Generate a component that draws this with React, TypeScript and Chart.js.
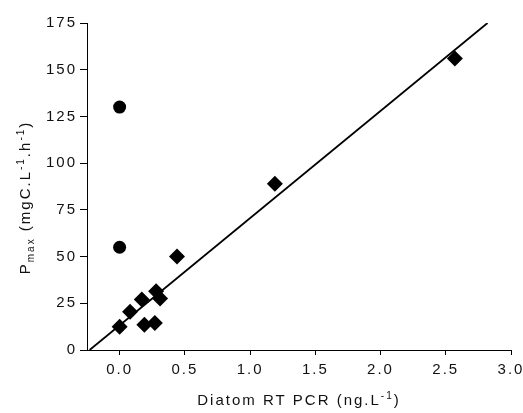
import React, { useEffect, useRef } from "react";
import { Chart, registerables } from "chart.js";

Chart.register(...registerables);

// Data
const circleX = [0.0, 0.0];
const circleY = [130, 55];
const diamondX = [0.0, 0.08, 0.17, 0.19, 0.27, 0.28, 0.31, 0.44, 1.19, 2.57];
const diamondY = [12.5, 20.5, 27, 13.5, 14.5, 31.5, 27.5, 50, 89, 156];
const fitX = [-0.23, 2.82];
const fitY = [0, 175];
const xTicks = [0, 0.5, 1.0, 1.5, 2.0, 2.5, 3.0];
const yTicks = [0, 25, 50, 75, 100, 125, 150, 175];

const xTitle = [
  { t: "Diatom RT PCR (ng.L", s: 0 },
  { t: "-1", s: 1 },
  { t: ")", s: 0 },
];
const yTitle = [
  { t: "P", s: 0 },
  { t: "max", s: -1 },
  { t: " (mgC.L", s: 0 },
  { t: "-1", s: 1 },
  { t: ".h", s: 0 },
  { t: "-1", s: 1 },
  { t: ")", s: 0 },
];

const FONT = "'Liberation Sans', Arial, sans-serif";
const TEXT = "#111";

function drawRich(ctx: CanvasRenderingContext2D, parts: { t: string; s: number }[], cx: number, baseY: number) {
  const big = `15px ${FONT}`;
  const small = `10px ${FONT}`;
  let total = 0;
  const widths = parts.map((p) => {
    ctx.font = p.s === 0 ? big : small;
    const w = ctx.measureText(p.t).width;
    total += w;
    return w;
  });
  let x = cx - total / 2;
  ctx.textAlign = "left";
  ctx.textBaseline = "alphabetic";
  parts.forEach((p, i) => {
    ctx.font = p.s === 0 ? big : small;
    const dy = p.s === 1 ? -6 : p.s === -1 ? 4 : 0;
    ctx.fillText(p.t, x, baseY + dy);
    x += widths[i];
  });
}

const titlePlugin = {
  id: "richTitles",
  beforeLayout(chart: any) {
    (chart.ctx as any).letterSpacing = "2px";
  },
  beforeDraw(chart: any) {
    (chart.ctx as any).letterSpacing = "2px";
  },
  afterDraw(chart: any) {
    const ctx = chart.ctx as CanvasRenderingContext2D;
    const a = chart.chartArea;
    ctx.save();
    (ctx as any).letterSpacing = "2px";
    ctx.fillStyle = TEXT;
    drawRich(ctx, xTitle, (a.left + a.right) / 2, a.bottom + 55);
    ctx.translate(30, (a.top + a.bottom) / 2 + 11);
    ctx.rotate(-Math.PI / 2);
    drawRich(ctx, yTitle, 0, 0);
    ctx.restore();
  },
};

export default function App() {
  const ref = useRef<HTMLCanvasElement | null>(null);
  useEffect(() => {
    if (!ref.current) return;
    const chart = new Chart(ref.current, {
      type: "scatter",
      data: {
        datasets: [
          {
            label: "fit",
            data: fitX.map((x, i) => ({ x, y: fitY[i] })),
            showLine: true,
            borderColor: "#000",
            borderWidth: 1.8,
            pointRadius: 0,
            order: 2,
          },
          {
            label: "circles",
            data: circleX.map((x, i) => ({ x, y: circleY[i] })),
            pointStyle: "circle",
            pointRadius: 6.5,
            backgroundColor: "#000",
            borderColor: "#000",
            borderWidth: 0,
            order: 1,
          },
          {
            label: "diamonds",
            data: diamondX.map((x, i) => ({ x, y: diamondY[i] })),
            pointStyle: "rectRot",
            pointRadius: 8,
            backgroundColor: "#000",
            borderColor: "#000",
            borderWidth: 0,
            order: 1,
          },
        ],
      },
      options: {
        animation: false,
        responsive: false,
        devicePixelRatio: 1,
        layout: { padding: { left: 0, top: 23, right: 12, bottom: 0 } },
        plugins: { legend: { display: false }, tooltip: { enabled: false } },
        scales: {
          x: {
            type: "linear",
            min: -0.25,
            max: 3.0,
            afterBuildTicks: (s: any) => {
              s.ticks = xTicks.map((v) => ({ value: v }));
            },
            afterFit: (s: any) => {
              s.height = 63;
              s.paddingLeft = 0;
              s.paddingRight = 0;
            },
            ticks: {
              color: TEXT,
              font: { family: FONT, size: 15 },
              padding: 6,
              maxRotation: 0,
              callback: (v: any) => Number(v).toFixed(1),
            },
            grid: { display: true, drawOnChartArea: false, drawTicks: true, tickLength: 5, color: "#000", lineWidth: 1 },
            border: { display: true, color: "#000", width: 1 },
          },
          y: {
            type: "linear",
            min: 0,
            max: 175,
            afterBuildTicks: (s: any) => {
              s.ticks = yTicks.map((v) => ({ value: v }));
            },
            afterFit: (s: any) => {
              s.width = 87;
              s.paddingTop = 0;
              s.paddingBottom = 0;
            },
            ticks: {
              color: TEXT,
              font: { family: FONT, size: 15 },
              padding: 3,
              callback: (v: any) => String(v),
            },
            grid: { display: true, drawOnChartArea: false, drawTicks: true, tickLength: 7, color: "#000", lineWidth: 1 },
            border: { display: true, color: "#000", width: 1 },
          },
        },
      },
      plugins: [titlePlugin],
    });
    return () => chart.destroy();
  }, []);
  return (
    <div style={{ position: "fixed", left: 0, top: 0, width: 523, height: 413, background: "#fff" }}>
      <canvas ref={ref} width={523} height={413} />
    </div>
  );
}
